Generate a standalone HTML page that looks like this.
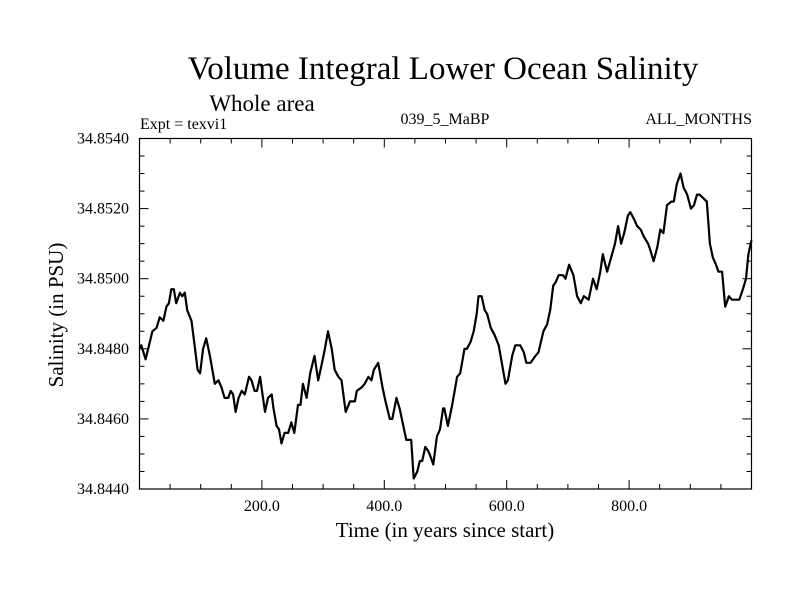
<!DOCTYPE html>
<html><head><meta charset="utf-8"><style>
html,body{margin:0;padding:0;background:#fff;}
svg{display:block;font-family:"Liberation Serif",serif;}
</style></head><body>
<svg id="chart" width="800" height="600" viewBox="0 0 800 600" xmlns="http://www.w3.org/2000/svg">
<rect width="800" height="600" fill="#fff"/>
<text x="443" y="79" font-size="33" text-anchor="middle">Volume Integral Lower Ocean Salinity</text>
<text x="262" y="111" font-size="23" text-anchor="middle">Whole area</text>
<text x="140" y="129" font-size="16">Expt = texvi1</text>
<text x="445" y="124" font-size="16" text-anchor="middle">039_5_MaBP</text>
<text x="752" y="124" font-size="16" text-anchor="end">ALL_MONTHS</text>
<text x="445" y="537" font-size="21" text-anchor="middle">Time (in years since start)</text>
<text transform="translate(63,315) rotate(-90)" font-size="21" text-anchor="middle">Salinity (in PSU)</text>
<g id="axes"></g>
<path id="series" fill="none" stroke="#000" stroke-width="2.2" stroke-linejoin="round"/>
</svg>
<script>
const years=[0,3,10,17,21,28,33,39,44,48,52,56,60,66,70,74,78,85,90,95,99,104,109,115,123,129,134,139,145,149,153,157,162,167,172,179,183,188,192,197,201,205,210,216,219,224,228,232,237,243,248,253,259,263,267,273,279,286,292,297,303,308,314,319,325,330,337,344,352,355,363,368,374,379,383,390,397,402,409,413,420,425,431,436,441,444,448,454,458,462,467,471,474,480,486,491,496,498,504,511,519,524,531,535,541,546,551,554,559,564,568,574,580,587,592,598,602,609,614,622,628,632,639,647,652,660,666,671,676,680,685,692,696,702,709,715,721,726,734,741,747,753,757,764,769,777,782,787,792,798,802,808,813,819,824,831,835,840,846,851,856,862,869,873,878,884,889,895,901,906,911,915,921,927,932,937,942,946,952,957,963,968,975,980,986,991,995,1000];
const salinity=[34.8480,34.8481,34.8477,34.8482,34.8485,34.8486,34.8489,34.8488,34.8492,34.8493,34.8497,34.8497,34.8493,34.8496,34.8495,34.8496,34.8491,34.8488,34.8481,34.8474,34.8473,34.8480,34.8483,34.8478,34.8470,34.8471,34.8469,34.8466,34.8466,34.8468,34.8467,34.8462,34.8466,34.8468,34.8467,34.8472,34.8471,34.8468,34.8468,34.8472,34.8467,34.8462,34.8466,34.8467,34.8463,34.8458,34.8457,34.8453,34.8456,34.8456,34.8459,34.8456,34.8464,34.8464,34.8470,34.8466,34.8473,34.8478,34.8471,34.8475,34.8480,34.8485,34.8480,34.8474,34.8472,34.8471,34.8462,34.8465,34.8465,34.8468,34.8469,34.8470,34.8472,34.8471,34.8474,34.8476,34.8469,34.8465,34.8460,34.8460,34.8466,34.8463,34.8458,34.8454,34.8454,34.8454,34.8443,34.8445,34.8448,34.8448,34.8452,34.8451,34.8450,34.8447,34.8455,34.8457,34.8463,34.8463,34.8458,34.8464,34.8472,34.8473,34.8480,34.8480,34.8482,34.8485,34.8490,34.8495,34.8495,34.8491,34.8490,34.8486,34.8484,34.8481,34.8476,34.8470,34.8471,34.8478,34.8481,34.8481,34.8479,34.8476,34.8476,34.8478,34.8479,34.8485,34.8487,34.8491,34.8498,34.8499,34.8501,34.8501,34.8500,34.8504,34.8501,34.8495,34.8493,34.8495,34.8494,34.8500,34.8497,34.8502,34.8507,34.8502,34.8505,34.8510,34.8515,34.8510,34.8513,34.8518,34.8519,34.8517,34.8515,34.8514,34.8512,34.8510,34.8508,34.8505,34.8509,34.8514,34.8513,34.8521,34.8522,34.8522,34.8527,34.8530,34.8526,34.8524,34.8520,34.8521,34.8524,34.8524,34.8523,34.8522,34.8510,34.8506,34.8504,34.8502,34.8502,34.8492,34.8495,34.8494,34.8494,34.8494,34.8497,34.8500,34.8507,34.8511];
const xTickValues=[200,400,600,800];
const xTickLabels=["200.0","400.0","600.0","800.0"];
const yTickValues=[34.844,34.846,34.848,34.850,34.852,34.854];
const yTickLabels=["34.8440","34.8460","34.8480","34.8500","34.8520","34.8540"];

const L=139.5,R=751.5,T=138.5,B=489;
const xMin=0,xMax=1000,yMin=34.844,yMax=34.854;
function xs(v){return L+(v-xMin)/(xMax-xMin)*(R-L);}
function ys(v){return B-(v-yMin)/(yMax-yMin)*(B-T);}
const NS="http://www.w3.org/2000/svg";
const axes=document.getElementById('axes');
function mk(tag,attrs){const e=document.createElementNS(NS,tag);for(const k in attrs)e.setAttribute(k,attrs[k]);axes.appendChild(e);return e;}
const frame=mk('rect',{x:L,y:T,width:R-L,height:B-T,fill:'none',stroke:'#000','stroke-width':1.2});


for(let v=50;v<xMax;v+=50){
  const major=v%200===0;const len=major?9:5;
  const t1=mk('line',{x1:xs(v),x2:xs(v),y1:B,y2:B-len,stroke:'#000','stroke-width':1});
  
  
  const t2=mk('line',{x1:xs(v),x2:xs(v),y1:T,y2:T+len,stroke:'#000','stroke-width':1});
  
  
}
for(let i=1;i<20;i++){
  const v=yMin+i*0.0005;const major=i%4===0;const len=major?9:5;
  const t1=mk('line',{x1:L,x2:L+len,y1:ys(v),y2:ys(v),stroke:'#000','stroke-width':1});
  
  
  const t2=mk('line',{x1:R,x2:R-len,y1:ys(v),y2:ys(v),stroke:'#000','stroke-width':1});
  
  
}
xTickValues.forEach((v,i)=>{
  const t=mk('text',{x:xs(v),y:B+22,'font-size':16,'text-anchor':'middle'});
  t.textContent=xTickLabels[i];
  
  
});
yTickValues.forEach((v,i)=>{
  const t=mk('text',{x:129,y:ys(v)+5,'font-size':16,'text-anchor':'end'});
  t.textContent=yTickLabels[i];
  
  
});
document.getElementById('series').setAttribute('d',years.map((y,i)=>(i?'L':'M')+xs(y).toFixed(1)+' '+ys(salinity[i]).toFixed(1)).join(' '));
</script>
</body></html>
